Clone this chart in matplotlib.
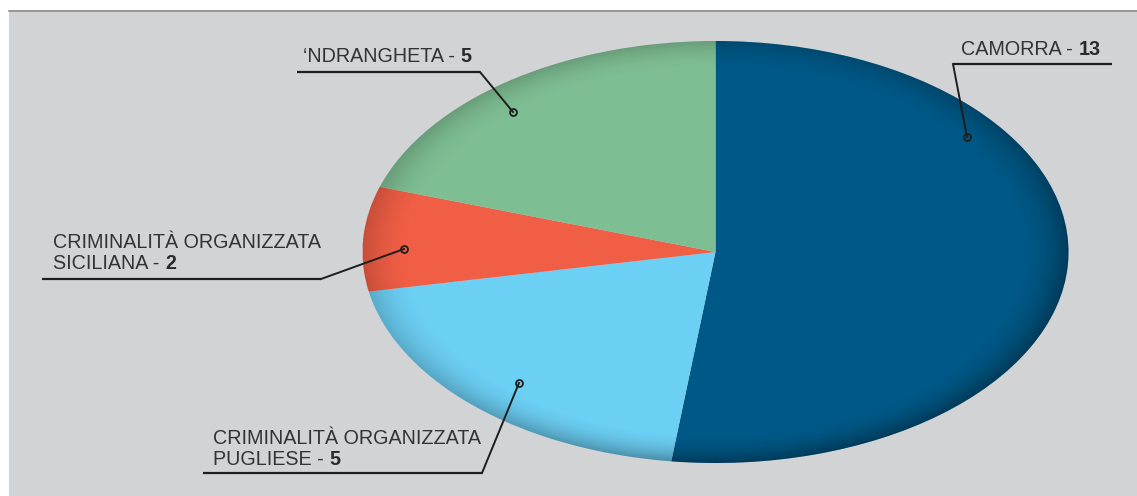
import numpy as np
import matplotlib
matplotlib.use("Agg")
import matplotlib.pyplot as plt
from matplotlib.patches import Circle, Rectangle

# ---- data ----
categories = ["CAMORRA", "CRIMINALITÀ ORGANIZZATA\nPUGLIESE", "CRIMINALITÀ ORGANIZZATA\nSICILIANA", "‘NDRANGHETA"]
values = [13, 5, 2, 5]
colors = ["#005886", "#6ccff4", "#f05e45", "#7ebe93"]

# label layout (pixel coords: text left x, baseline of last line y, underline x0,x1,y, dot x,y)
label_layout = [
    dict(tx=961, ty=55, ux0=953, ux1=1112, uy=64, lead="left", dot=(967, 137)),
    dict(tx=213, ty=465, ux0=203, ux1=482, uy=473, lead="right", dot=(519, 383)),
    dict(tx=53, ty=269, ux0=42, ux1=321, uy=279, lead="right", dot=(404, 249)),
    dict(tx=303, ty=62, ux0=297, ux1=480, uy=72, lead="right", dot=(513, 112)),
]

W, H = 1137, 496
fig = plt.figure(figsize=(W / 100, H / 100), dpi=100, facecolor="white")

# background panel
axbg = fig.add_axes([0, 0, 1, 1], zorder=0)
axbg.set_xlim(0, W); axbg.set_ylim(H, 0); axbg.axis("off")
axbg.add_patch(Rectangle((9, 10), W, H, facecolor="#d1d3d5", edgecolor="none"))
axbg.plot([9, W], [10.5, 10.5], color="#8c8c8c", lw=1.2)

# pie (elliptical)
cx0, cx1, cy0, cy1 = 362.5, 1068.5, 41, 463
axp = fig.add_axes([cx0 / W, (H - cy1) / H, (cx1 - cx0) / W, (cy1 - cy0) / H], zorder=1)
axp.pie(values, colors=colors, startangle=90, counterclock=False, radius=1,
        wedgeprops=dict(linewidth=0))
axp.set_aspect("auto")
axp.set_xlim(-1, 1); axp.set_ylim(-1, 1)
axp.axis("off")

# rim shading overlay
n = 400
xs = np.linspace(-1, 1, n)
X, Y = np.meshgrid(xs, xs[::-1])
R = np.sqrt(X ** 2 + Y ** 2)
shade = np.zeros((n, n, 4))
a = 0.28 * np.clip((R - 0.86) / 0.14, 0, 1) ** 2.0
a *= (0.6 + 0.6 * np.clip((X - Y) / 1.6 + 0.3, 0, 1))
shade[..., 3] = np.clip(a, 0, 0.35)
im = axp.imshow(shade, extent=(-1, 1, -1, 1), zorder=5, aspect="auto", interpolation="bilinear")
clip = Circle((0, 0), 1, transform=axp.transData)
im.set_clip_path(clip)
axp.set_xlim(-1, 1); axp.set_ylim(-1, 1)

# annotation layer
ax = fig.add_axes([0, 0, 1, 1], zorder=2)
ax.set_xlim(0, W); ax.set_ylim(H, 0); ax.axis("off")
ax.patch.set_alpha(0)

font = dict(family=["Liberation Sans", "DejaVu Sans"], fontsize=14.2, color="#333333")
fig.canvas.draw()
renderer = fig.canvas.get_renderer()
for cat, val, lay in zip(categories, values, label_layout):
    lines = cat.split("\n")
    nl = len(lines)
    for i, line in enumerate(lines):
        y = lay["ty"] - (nl - 1 - i) * 20.5
        if i == nl - 1:
            t = ax.text(lay["tx"], y, line + " - ", ha="left", va="baseline", **font)
            bb = t.get_window_extent(renderer)
            xe = bb.x1  # display pixels == data x here
            ax.text(xe, y, str(val), ha="left", va="baseline", fontweight="bold",
                    family=font["family"], fontsize=font["fontsize"], color="#2a2a2a")
        else:
            ax.text(lay["tx"], y, line, ha="left", va="baseline", **font)
    ax.plot([lay["ux0"], lay["ux1"]], [lay["uy"], lay["uy"]], color="#1e1e1e", lw=1.6,
            solid_capstyle="butt")
    sx = lay["ux0"] if lay["lead"] == "left" else lay["ux1"]
    ax.plot([sx, lay["dot"][0]], [lay["uy"], lay["dot"][1]], color="#1e1e1e", lw=1.4)
    ax.plot([lay["dot"][0]], [lay["dot"][1]], marker="o", ms=5, mfc="none", mec="#1e1e1e", mew=1.3)

fig.savefig("out.png", dpi=100, facecolor="white")
